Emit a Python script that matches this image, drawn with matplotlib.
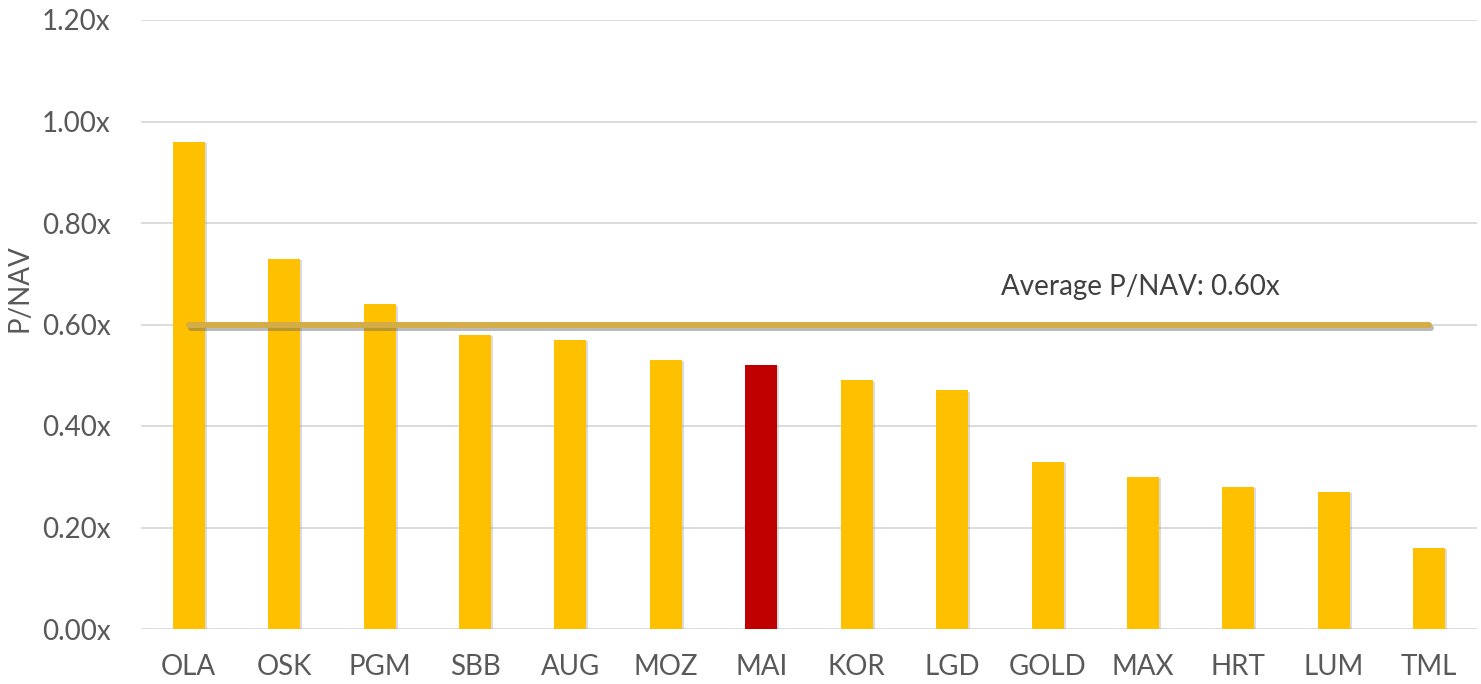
import matplotlib.pyplot as plt
import matplotlib.patheffects as pe

tickers = ['OLA', 'OSK', 'PGM', 'SBB', 'AUG', 'MOZ', 'MAI', 'KOR', 'LGD',
           'GOLD', 'MAX', 'HRT', 'LUM', 'TML']
p_nav = [0.96, 0.73, 0.64, 0.58, 0.57, 0.53, 0.52, 0.49, 0.47,
         0.33, 0.30, 0.28, 0.27, 0.16]
highlight = 'MAI'
average = 0.60

plt.rcParams['font.family'] = ['Lato', 'DejaVu Sans']
grey_text = '#595959'

fig = plt.figure(figsize=(14.81, 6.84), dpi=100)
ax = fig.add_axes([141 / 1481, 1 - 629 / 684, 1336 / 1481, 609 / 684])

colors = ['#C00000' if t == highlight else '#FFC000' for t in tickers]
x = range(len(tickers))
bars = ax.bar(x, p_nav, width=0.335, color=colors, zorder=3)
for b in bars:
    b.set_path_effects([pe.SimplePatchShadow(offset=(1.5, -1), shadow_rgbFace='#999999', alpha=0.35),
                        pe.Normal()])

ax.plot([0, len(tickers) - 1], [average, average], color='#D4AC48', lw=4.3,
        solid_capstyle='round', zorder=4,
        path_effects=[pe.SimpleLineShadow(offset=(1.5, -2.5), shadow_color='#666666', alpha=0.45),
                      pe.Normal()])
ax.text(9.97, 0.674, f'Average P/NAV: {average:.2f}x', ha='center', va='center',
        fontsize=20, color='#404040', zorder=5)

ax.set_xlim(-0.5, len(tickers) - 0.5)
ax.set_ylim(0, 1.2)
ax.set_yticks([0, 0.2, 0.4, 0.6, 0.8, 1.0, 1.2])
ax.set_yticklabels([f'{v:.2f}x' for v in [0, 0.2, 0.4, 0.6, 0.8, 1.0, 1.2]])
ax.set_xticks(list(x))
ax.set_xticklabels(tickers)
ax.tick_params(axis='both', length=0, labelsize=20, labelcolor=grey_text)
ax.tick_params(axis='y', pad=22)
ax.tick_params(axis='x', pad=18)
ax.grid(axis='y', color='#D9D9D9', lw=1.3, zorder=0)
for s in ax.spines.values():
    s.set_visible(False)

fig.text(20 / 1481, 1 - 288 / 684, 'P/NAV', rotation=90, ha='center', va='center',
         fontsize=20, color=grey_text)

fig.savefig('out.png', dpi=100)
